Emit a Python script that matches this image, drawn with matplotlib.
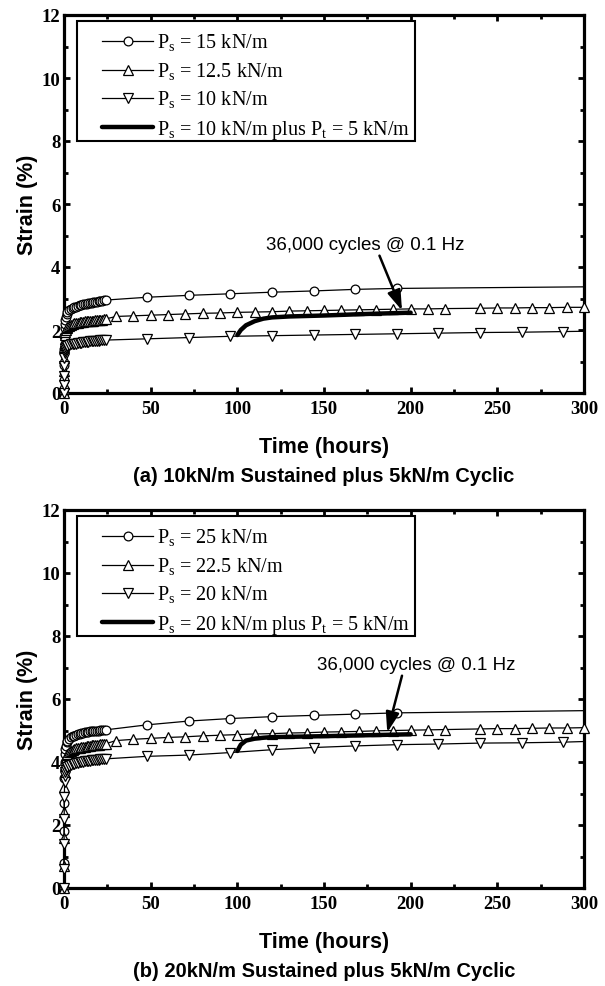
import matplotlib
matplotlib.use("Agg")
import numpy as np
from matplotlib import pyplot as plt
from matplotlib.patches import Rectangle

# shared early sampling (hours)
early_t = [0, 0.02, 0.05, 0.1, 0.2, 0.35, 0.5, 0.75, 1, 1.5, 2, 3, 4, 5, 6, 7, 8, 9,
           10, 11, 12, 13, 14, 15, 16, 17, 18, 19, 20, 21, 22, 23, 24]
daily_t = [48, 72, 96, 120, 144, 168, 192]
daily_t_low = [48, 72, 96, 120, 144, 168, 192, 216, 240, 264, 288]
tenth_t = [30, 40, 50, 60, 70, 80, 90, 100, 110, 120, 130, 140, 150, 160, 170, 180,
           190, 200, 210, 220, 240, 250, 260, 270, 280, 290, 300]
cyc_t = [100, 102, 105, 110, 115, 120, 130, 150, 175, 200]

# (a) 10 kN/m sustained plus 5 kN/m cyclic
a_hi_early = [0, 0.4, 0.9, 1.4, 1.8, 2.05, 2.2, 2.32, 2.4, 2.5, 2.56, 2.62, 2.66, 2.69,
              2.72, 2.74, 2.76, 2.78, 2.8, 2.81, 2.83, 2.84, 2.85, 2.86, 2.87, 2.88,
              2.89, 2.9, 2.91, 2.92, 2.93, 2.94, 2.95]
a_hi_late = [3.04, 3.1, 3.15, 3.2, 3.24, 3.29, 3.32]
a_hi_end = 3.37
a_mid_early = [0, 0.3, 0.7, 1.1, 1.45, 1.7, 1.85, 1.95, 2.0, 2.06, 2.1, 2.14, 2.17, 2.19,
               2.21, 2.22, 2.23, 2.24, 2.25, 2.26, 2.27, 2.28, 2.28, 2.29, 2.3, 2.3,
               2.31, 2.32, 2.32, 2.33, 2.33, 2.34, 2.35]
a_mid_late = [2.43, 2.45, 2.47, 2.49, 2.51, 2.53, 2.54, 2.56, 2.57, 2.58, 2.6, 2.61, 2.62,
              2.63, 2.64, 2.65, 2.66, 2.67, 2.67, 2.68, 2.69, 2.7, 2.7, 2.71, 2.71, 2.72,
              2.72]
a_lo_early = [0, 0.25, 0.55, 0.85, 1.1, 1.26, 1.34, 1.4, 1.43, 1.47, 1.49, 1.52, 1.54,
              1.55, 1.56, 1.57, 1.58, 1.59, 1.6, 1.61, 1.62, 1.63, 1.63, 1.64, 1.64,
              1.65, 1.65, 1.66, 1.66, 1.67, 1.67, 1.68, 1.68]
a_lo_late = [1.72, 1.76, 1.8, 1.82, 1.84, 1.86, 1.88, 1.9, 1.92, 1.93, 1.95]
a_lo_end = 1.96
a_cyc = [1.84, 2.0, 2.15, 2.28, 2.36, 2.4, 2.43, 2.46, 2.51, 2.55]

# (b) 20 kN/m sustained plus 5 kN/m cyclic
b_hi_early = [0, 0.8, 1.8, 2.7, 3.5, 4.0, 4.25, 4.42, 4.52, 4.62, 4.68, 4.74, 4.78, 4.81,
              4.84, 4.86, 4.88, 4.9, 4.91, 4.93, 4.94, 4.95, 4.96, 4.97, 4.98, 4.98,
              4.99, 5.0, 5.0, 5.01, 5.01, 5.02, 5.02]
b_hi_late = [5.18, 5.3, 5.38, 5.44, 5.48, 5.52, 5.56]
b_hi_end = 5.63
b_mid_early = [0, 0.7, 1.6, 2.4, 3.2, 3.65, 3.9, 4.05, 4.13, 4.21, 4.26, 4.32, 4.36, 4.39,
               4.41, 4.43, 4.45, 4.46, 4.47, 4.48, 4.49, 4.5, 4.51, 4.52, 4.53, 4.53,
               4.54, 4.55, 4.55, 4.56, 4.56, 4.57, 4.58]
b_mid_late = [4.68, 4.72, 4.75, 4.78, 4.8, 4.83, 4.85, 4.87, 4.89, 4.9, 4.92, 4.93, 4.95,
              4.96, 4.97, 4.99, 5.0, 5.01, 5.02, 5.03, 5.05, 5.06, 5.06, 5.07, 5.08, 5.08,
              5.09]
b_lo_early = [0, 0.6, 1.4, 2.2, 2.9, 3.35, 3.55, 3.68, 3.74, 3.8, 3.84, 3.88, 3.91, 3.93,
              3.95, 3.97, 3.98, 3.99, 4.0, 4.01, 4.02, 4.03, 4.04, 4.04, 4.05, 4.06,
              4.06, 4.07, 4.07, 4.08, 4.08, 4.09, 4.1]
b_lo_late = [4.18, 4.22, 4.3, 4.39, 4.46, 4.51, 4.55, 4.57, 4.6, 4.61, 4.63]
b_lo_end = 4.65
b_cyc = [4.35, 4.55, 4.68, 4.74, 4.77, 4.79, 4.8, 4.82, 4.85, 4.88]

a_labels = [r"P$_\mathregular{s}$ = 15 kN/m", r"P$_\mathregular{s}$ = 12.5 kN/m",
            r"P$_\mathregular{s}$ = 10 kN/m",
            r"P$_\mathregular{s}$ = 10 kN/m plus P$_\mathregular{t}$ = 5 kN/m"]
b_labels = [r"P$_\mathregular{s}$ = 25 kN/m", r"P$_\mathregular{s}$ = 22.5 kN/m",
            r"P$_\mathregular{s}$ = 20 kN/m",
            r"P$_\mathregular{s}$ = 20 kN/m plus P$_\mathregular{t}$ = 5 kN/m"]
a_title = "(a) 10kN/m Sustained plus 5kN/m Cyclic"
b_title = "(b) 20kN/m Sustained plus 5kN/m Cyclic"
note = "36,000 cycles @ 0.1 Hz"
# (text x, text y, arrow start x, y, arrow tip x, y)
a_note = (174, 4.73, 182, 4.36, 195, 2.62)
b_note = (203, 7.1, 195, 6.74, 186.5, 4.94)

SERIF = "Liberation Serif"
SANS = "Liberation Sans"
plt.rcParams["mathtext.fontset"] = "custom"
plt.rcParams["mathtext.rm"] = SERIF


def panel(ax, hi_e, hi_l, hi_end, mid_e, mid_l, lo_e, lo_l, lo_end, cyc, labels,
          title, nt):
    thin = dict(color="black", lw=0.9, mfc="white", mec="black", mew=0.9, clip_on=False)
    t_hi = early_t + daily_t + [300]
    y_hi = hi_e + hi_l + [hi_end]
    ax.plot(t_hi, y_hi, marker="o", ms=6.3, markevery=list(range(len(t_hi) - 1)),
            label=labels[0], zorder=3, **thin)
    ax.plot(early_t + tenth_t, mid_e + mid_l, marker="^", ms=6.8, label=labels[1],
            zorder=3, **thin)
    t_lo = early_t + daily_t_low + [300]
    y_lo = lo_e + lo_l + [lo_end]
    ax.plot(t_lo, y_lo, marker="v", ms=6.8, markevery=list(range(len(t_lo) - 1)),
            label=labels[2], zorder=3, **thin)
    ax.plot(cyc_t, cyc, color="black", lw=3.2, solid_capstyle="round", label=labels[3],
            zorder=4)

    ax.set_xlim(0, 300)
    ax.set_ylim(0, 12)
    ax.set_xticks(range(0, 301, 50))
    ax.set_xticks(range(25, 300, 50), minor=True)
    ax.set_yticks(range(0, 13, 2))
    ax.set_yticks(range(1, 12, 2), minor=True)
    ax.tick_params(which="both", direction="in", top=True, right=True, width=2,
                   labelsize=13.5)
    ax.tick_params(which="major", length=4.5)
    ax.tick_params(which="minor", length=3)
    ax.tick_params(axis="x", pad=5)
    ax.tick_params(axis="y", pad=2.5)
    for lab in ax.get_xticklabels() + ax.get_yticklabels():
        lab.set_fontfamily(SERIF)
        lab.set_fontweight("bold")
    for sp in ax.spines.values():
        sp.set_linewidth(2.3)

    ax.set_xlabel("Time (hours)", fontfamily=SANS, fontweight="bold", fontsize=15.5,
                  va="center")
    ax.xaxis.set_label_coords(0.5, -54 / 378)
    ax.set_ylabel("Strain (%)", fontfamily=SANS, fontweight="bold", fontsize=15.5,
                  va="center")
    ax.yaxis.set_label_coords(-36 / 520, 0.5)
    ax.text(0.5, -83 / 378, title, transform=ax.transAxes, ha="center", va="center",
            fontfamily=SANS, fontweight="bold", fontsize=14.5)

    # legend box drawn by hand: padding is uneven in the original
    ax.add_patch(Rectangle((13 / 520, 252 / 378), 338 / 520, 120 / 378,
                           transform=ax.transAxes, fill=True, fc="white",
                           ec="black", lw=1.5, zorder=6))
    leg = ax.legend(loc="upper left", bbox_to_anchor=(38 / 520, 0.955),
                    borderaxespad=0, borderpad=0, frameon=False,
                    prop={"family": SERIF, "size": 14.5}, handlelength=2.55,
                    handletextpad=0.2, labelspacing=0.36)
    leg.set_zorder(7)

    tx, ty, sx, sy, hx, hy = nt
    ax.text(tx, ty, note, ha="center", va="center", fontfamily=SANS, fontsize=13.5)
    ax.annotate("", xy=(hx, hy), xytext=(sx, sy),
                arrowprops=dict(arrowstyle="-|>,head_length=0.9,head_width=0.3",
                                color="black", lw=1.8, mutation_scale=13.5,
                                shrinkA=0, shrinkB=0), zorder=5)


fig = plt.figure(figsize=(6.05, 9.87), dpi=100)
ax1 = fig.add_axes([64 / 605, 1 - 394 / 987, 520 / 605, 378 / 987])
ax2 = fig.add_axes([64 / 605, 1 - 889 / 987, 520 / 605, 378 / 987])
panel(ax1, a_hi_early, a_hi_late, a_hi_end, a_mid_early, a_mid_late, a_lo_early,
      a_lo_late, a_lo_end, a_cyc, a_labels, a_title, a_note)
panel(ax2, b_hi_early, b_hi_late, b_hi_end, b_mid_early, b_mid_late, b_lo_early,
      b_lo_late, b_lo_end, b_cyc, b_labels, b_title, b_note)

fig.savefig("out.png", dpi=100)
